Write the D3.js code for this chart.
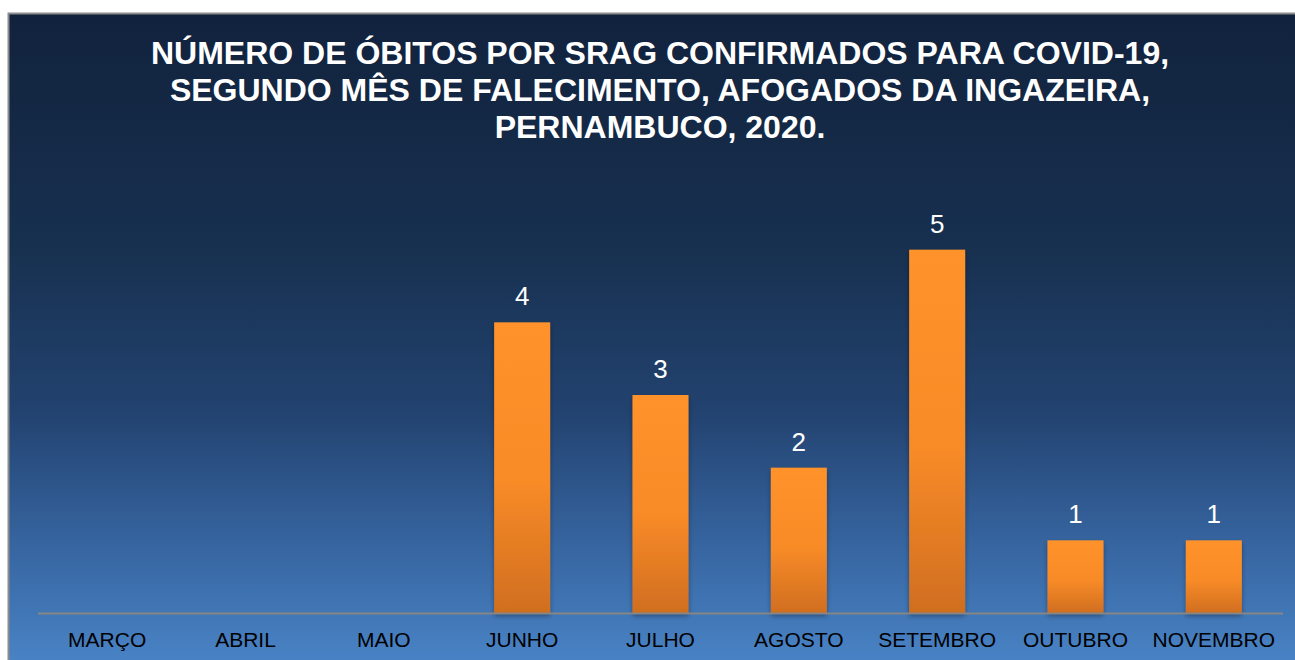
<!DOCTYPE html>
<html>
<head>
<meta charset="utf-8">
<script src="https://cdn.jsdelivr.net/npm/d3@7"></script>
<style>
  body { margin: 0; background: #fff; }
  svg { display: block; font-family: "Liberation Sans", Arial, sans-serif; }
</style>
</head>
<body>
<svg width="1295" height="660"></svg>
<script>
// data
var months = ["MARÇO", "ABRIL", "MAIO", "JUNHO", "JULHO", "AGOSTO", "SETEMBRO", "OUTUBRO", "NOVEMBRO"];
var deaths = [0, 0, 0, 4, 3, 2, 5, 1, 1];
var titleLines = [
    "NÚMERO DE ÓBITOS POR SRAG CONFIRMADOS PARA COVID-19,",
    "SEGUNDO MÊS DE FALECIMENTO, AFOGADOS DA INGAZEIRA,",
    "PERNAMBUCO, 2020."
];

// pair months with values, keep only months with deaths
var rows = months.map(function(m, i) { return { month: m, value: deaths[i] }; });
var nonZero = rows.filter(function(d) { return d.value > 0; });

var svg = d3.select("svg");
var defs = svg.append("defs");

// background gradient, dark navy at top to lighter blue at bottom
var bg = defs.append("linearGradient").attr("id", "bg")
    .attr("x1", 0).attr("y1", 0).attr("x2", 0).attr("y2", 1);
bg.append("stop").attr("offset", "0%").attr("stop-color", "#11223d");
bg.append("stop").attr("offset", "35%").attr("stop-color", "#17304f");
bg.append("stop").attr("offset", "60%").attr("stop-color", "#22426f");
bg.append("stop").attr("offset", "80%").attr("stop-color", "#36649f");
bg.append("stop").attr("offset", "100%").attr("stop-color", "#4b86c9");

// bar gradient
var barGrad = defs.append("linearGradient").attr("id", "bar")
    .attr("x1", 0).attr("y1", 0).attr("x2", 0).attr("y2", 1);
barGrad.append("stop").attr("offset", "0%").attr("stop-color", "#ff9229");
barGrad.append("stop").attr("offset", "55%").attr("stop-color", "#f88b28");
barGrad.append("stop").attr("offset", "100%").attr("stop-color", "#d06e1f");

var shadow = defs.append("filter").attr("id", "shadow")
    .attr("x", "-20%").attr("y", "-10%").attr("width", "140%").attr("height", "130%");
shadow.append("feDropShadow").attr("dx", 0).attr("dy", 3).attr("stdDeviation", 2.5)
    .attr("flood-color", "#000").attr("flood-opacity", 0.35);

// chart box
svg.append("rect")
    .attr("x", 8.5).attr("y", 13.5)
    .attr("width", 1300).attr("height", 660)
    .attr("fill", "url(#bg)")
    .attr("stroke", "#8c8c8c")
    .attr("stroke-width", 2);

// title
svg.append("text")
    .attr("text-anchor", "middle")
    .attr("fill", "#fff")
    .style("font-size", "32px")
    .style("font-weight", "bold")
    .selectAll("tspan")
    .data(titleLines)
    .enter().append("tspan")
    .attr("x", 660)
    .attr("y", function(d, i) { return 64 + i * 37; })
    .text(function(d) { return d; });

// scales
var x = d3.scaleBand()
    .domain(months)
    .range([38, 1283])
    .paddingInner(0.595)
    .paddingOuter(0.2975);

var y = d3.scaleLinear()
    .domain([0, 6])
    .range([613, 177]);

// bars
svg.selectAll(".bar")
    .data(nonZero)
    .enter().append("rect")
    .attr("class", "bar")
    .attr("x", function(d) { return x(d.month); })
    .attr("y", function(d) { return y(d.value); })
    .attr("width", x.bandwidth())
    .attr("height", function(d) { return y(0) - y(d.value); })
    .attr("fill", "url(#bar)")
    .attr("filter", "url(#shadow)");

// baseline
svg.append("line")
    .attr("x1", 38).attr("x2", 1283)
    .attr("y1", y(0) + 0.5).attr("y2", y(0) + 0.5)
    .attr("stroke", "#868686")
    .attr("stroke-width", 2);

// value labels
svg.selectAll(".val")
    .data(nonZero)
    .enter().append("text")
    .attr("class", "val")
    .attr("x", function(d) { return x(d.month) + x.bandwidth() / 2; })
    .attr("y", function(d) { return y(d.value) - 17; })
    .attr("text-anchor", "middle")
    .attr("fill", "#fff")
    .style("font-size", "26px")
    .text(function(d) { return d.value; });

// category labels
var xAxis = d3.axisBottom(x).tickSize(0).tickPadding(0);
var gx = svg.append("g")
    .attr("transform", "translate(0," + y(0) + ")")
    .call(xAxis);
gx.select(".domain").remove();
gx.selectAll("text")
    .attr("y", 34)
    .attr("dy", null)
    .attr("fill", "#000")
    .style("font-size", "21px")
    .style("font-family", "'Liberation Sans', Arial, sans-serif");
</script>
</body>
</html>
